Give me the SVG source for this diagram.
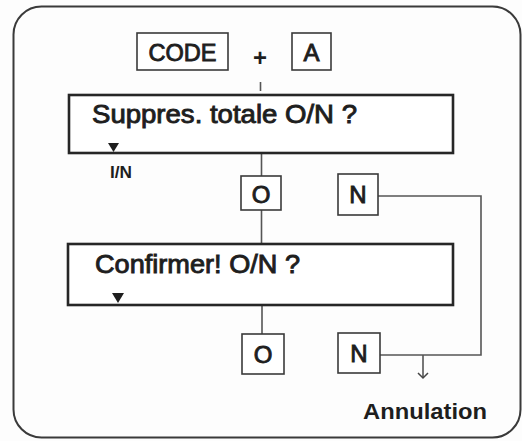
<svg xmlns="http://www.w3.org/2000/svg" width="522" height="441" viewBox="0 0 522 441">
  <defs>
    <style>
      .frame { fill: none; stroke: #3a3a3a; stroke-width: 2; }
      .big { fill: #ffffff; stroke: #262626; stroke-width: 2.6; }
      .key { fill: #ffffff; stroke: #3a3a3a; stroke-width: 1.6; }
      .line { fill: none; stroke: #555; stroke-width: 1.6; }
      .txt { font-family: "Liberation Sans", Arial, sans-serif; fill: #1e1e1e; stroke: #1e1e1e; stroke-width: 0.9; }
      .bold { font-family: "Liberation Sans", Arial, sans-serif; font-weight: bold; fill: #1e1e1e; }
      .tri { fill: #1e1e1e; }
      .head { fill: none; stroke: #444; stroke-width: 1.5; }
    </style>
  </defs>
  <rect width="522" height="441" fill="#fdfdfd"/>
  <rect class="frame" x="13.5" y="6.5" width="507" height="431" rx="28" ry="28"/>

  <g id="connectors">
    <line class="line" x1="260.5" y1="82" x2="260.5" y2="91"/>
    <line class="line" x1="261.5" y1="153" x2="261.5" y2="176"/>
    <line class="line" x1="261.5" y1="208" x2="261.5" y2="244"/>
    <line class="line" x1="262" y1="305" x2="262" y2="334"/>
    <polyline class="line" points="378,196 481,196 481,355 380,355"/>
    <line class="line" x1="423" y1="355" x2="423" y2="378"/>
    <path class="head" d="M418,373 L423,378 L428,373"/>
  </g>

  <g id="code">
    <rect class="key" x="137" y="33" width="91" height="37"/>
    <text class="txt" x="182.5" y="61" font-size="24" text-anchor="middle" textLength="68" lengthAdjust="spacingAndGlyphs">CODE</text>
  </g>
  <g id="plus">
    <text class="bold" x="260" y="66" font-size="24" text-anchor="middle">+</text>
  </g>
  <g id="key-a">
    <rect class="key" x="292" y="33" width="39" height="37"/>
    <text class="txt" x="311.5" y="61" font-size="24" text-anchor="middle">A</text>
  </g>

  <g id="suppres">
    <rect class="big" x="69" y="95" width="384" height="58"/>
    <text class="txt" x="92" y="123" font-size="25.5" textLength="265" lengthAdjust="spacingAndGlyphs">Suppres. totale O/N ?</text>
    <path class="tri" d="M108,143 L119,143 L113.5,152 Z"/>
  </g>
  <g id="label-in">
    <text class="bold" x="110" y="178" font-size="16" textLength="22" lengthAdjust="spacingAndGlyphs">I/N</text>
  </g>

  <g id="o1">
    <rect class="key" x="241" y="176" width="40" height="34"/>
    <text class="txt" x="261" y="203" font-size="24" text-anchor="middle">O</text>
  </g>
  <g id="n1">
    <rect class="key" x="338" y="174" width="40" height="41"/>
    <text class="txt" x="358" y="203" font-size="24" text-anchor="middle">N</text>
  </g>

  <g id="confirmer">
    <rect class="big" x="68" y="244" width="385" height="61"/>
    <text class="txt" x="95" y="273" font-size="25.5" textLength="205" lengthAdjust="spacingAndGlyphs">Confirmer! O/N ?</text>
    <path class="tri" d="M112,293 L124,293 L118,303 Z"/>
  </g>

  <g id="o2">
    <rect class="key" x="242" y="334" width="42" height="40"/>
    <text class="txt" x="263" y="363" font-size="24" text-anchor="middle">O</text>
  </g>
  <g id="n2">
    <rect class="key" x="338" y="333" width="42" height="40"/>
    <text class="txt" x="359" y="362" font-size="24" text-anchor="middle">N</text>
  </g>

  <g id="annulation">
    <text class="bold" x="363" y="419" font-size="22" textLength="124" lengthAdjust="spacingAndGlyphs">Annulation</text>
  </g>
</svg>
